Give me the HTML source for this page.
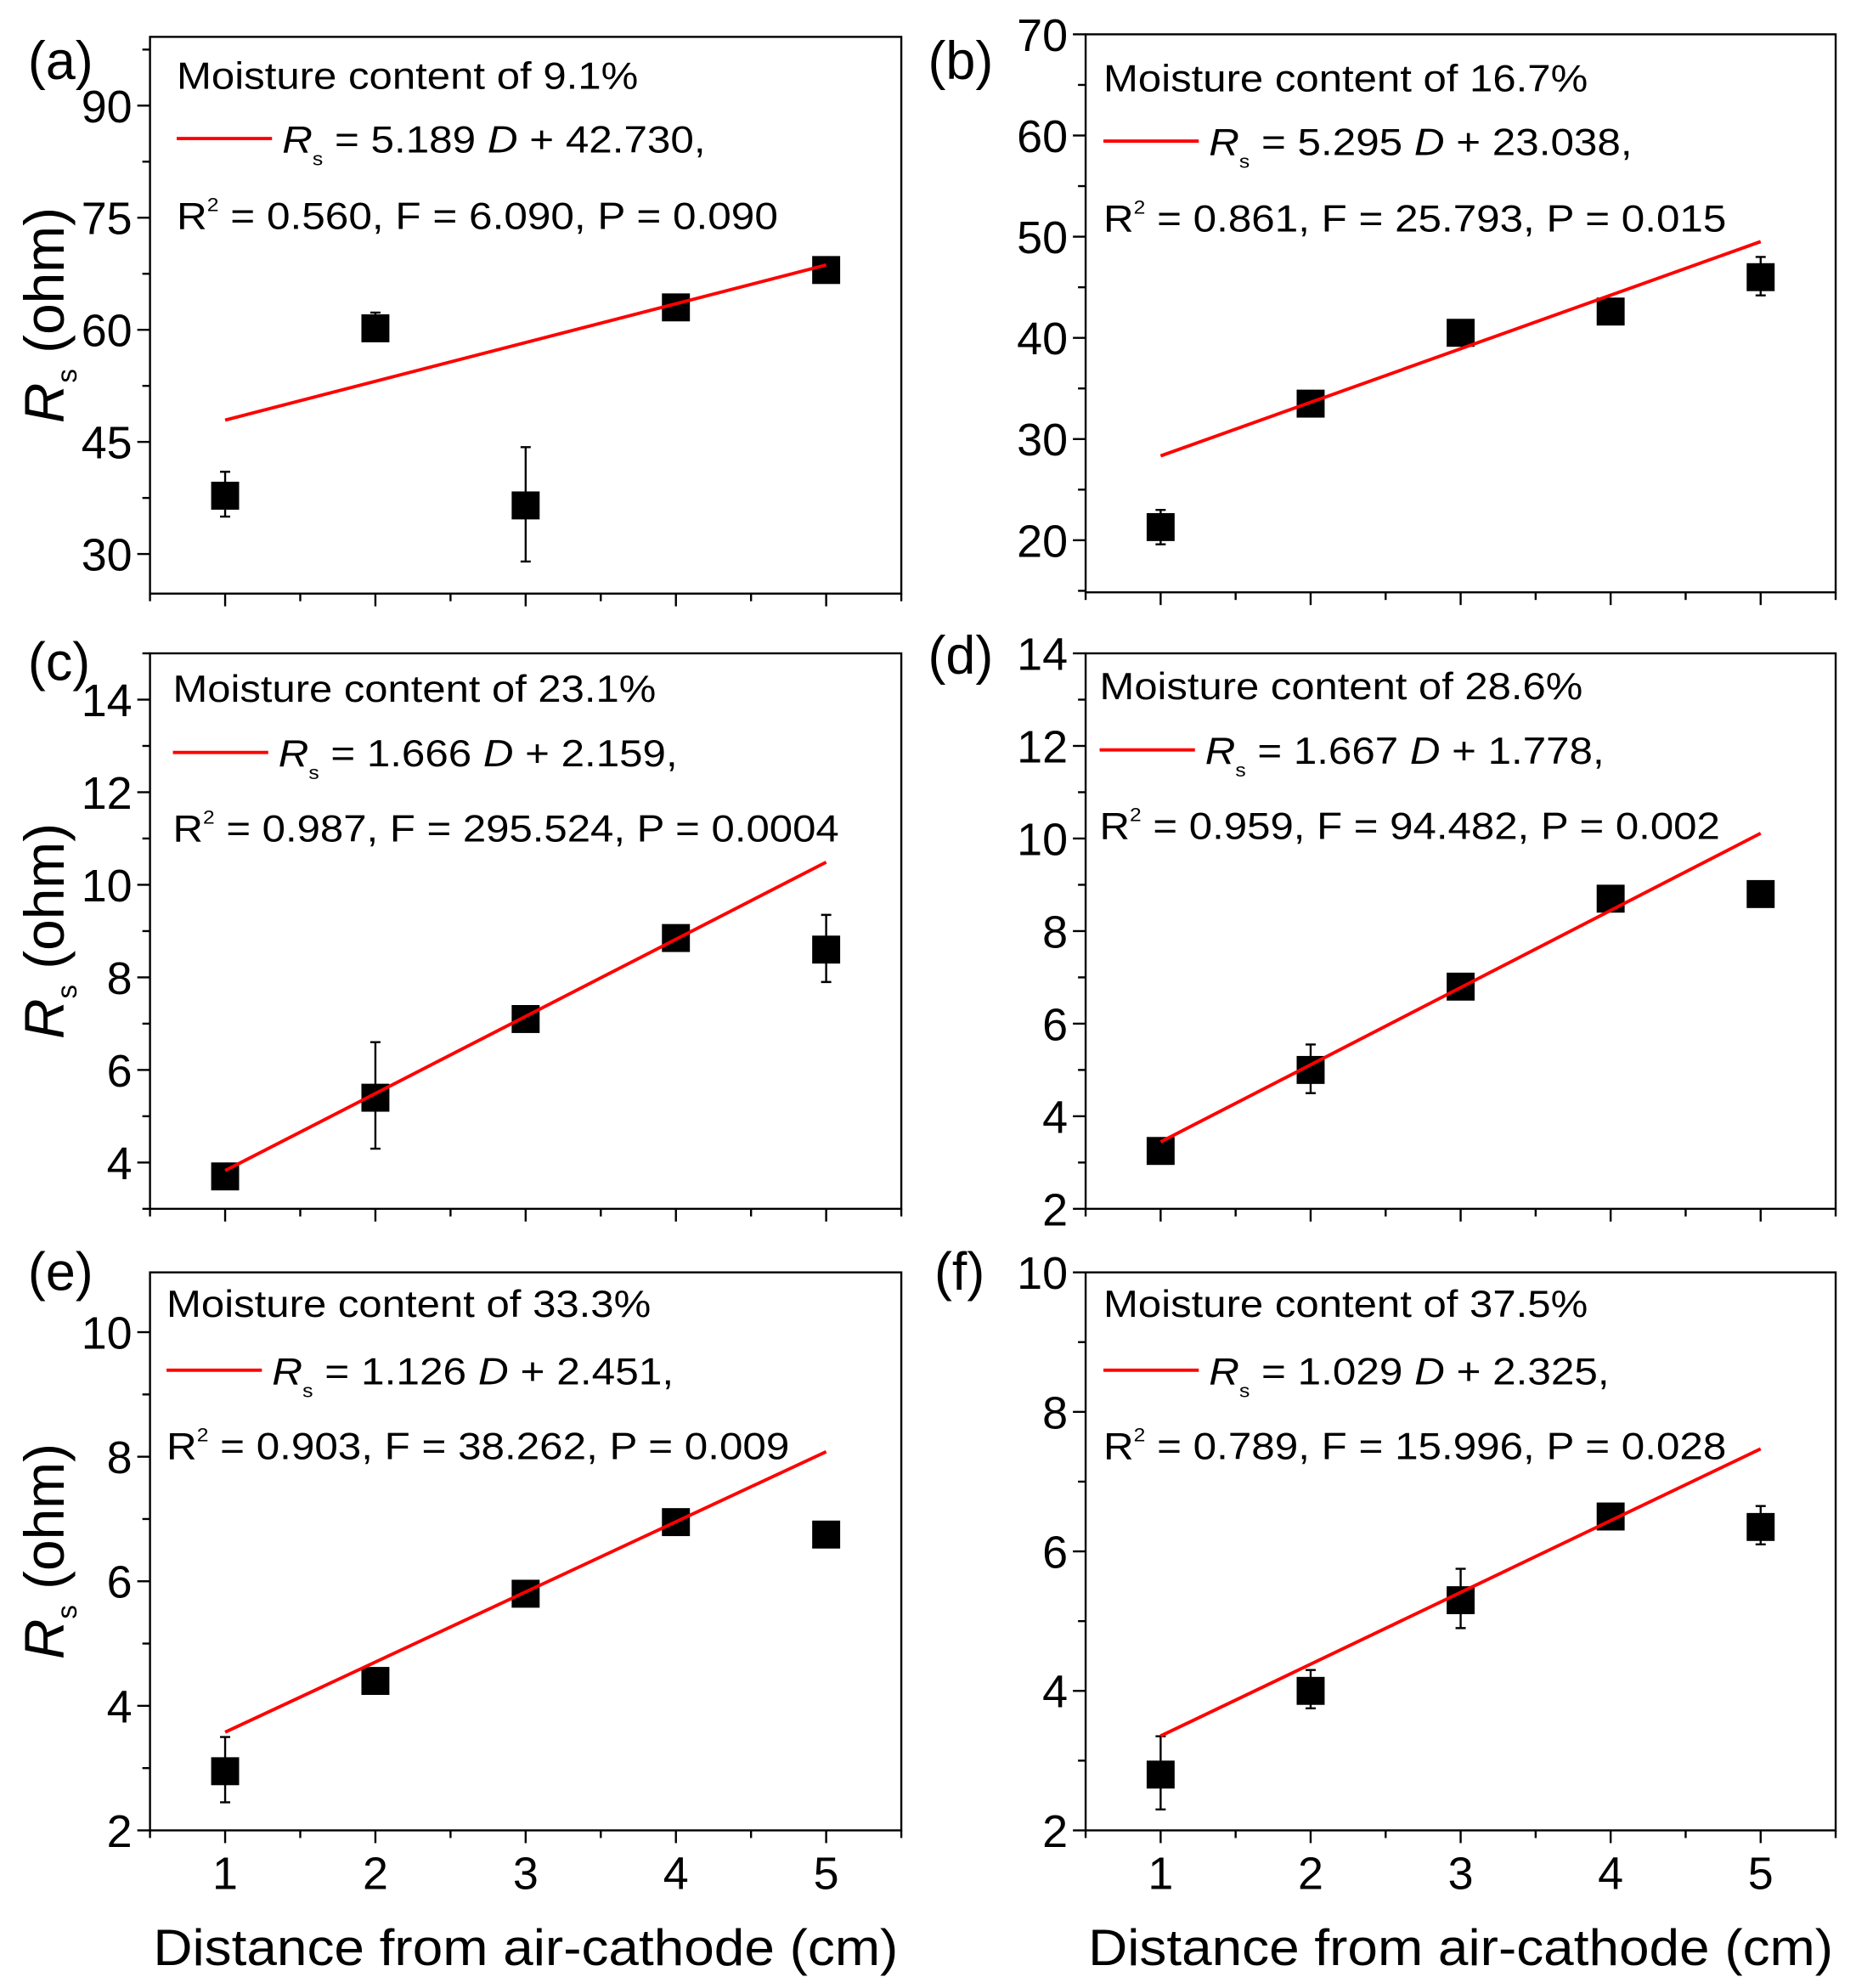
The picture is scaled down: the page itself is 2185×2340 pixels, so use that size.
<!DOCTYPE html>
<html><head><meta charset="utf-8"><style>
html,body{margin:0;padding:0;background:#fff;}
svg{display:block;}
text{font-family:"Liberation Sans",Arial,sans-serif;fill:#000;}
</style></head><body>
<svg id="fig" width="2185" height="2340" viewBox="0 0 1460 1564" preserveAspectRatio="none" xmlns="http://www.w3.org/2000/svg"></svg>
<script>
const distances = [1, 2, 3, 4, 5];
const aValues = [37.8, 60.2, 36.5, 63.0, 68.0];
const aErrLo = [35.0, 58.8, 29.0, 61.3, 67.2];
const aErrHi = [41.0, 62.3, 44.3, 64.5, 68.8];
const bValues = [21.3, 33.5, 40.5, 42.6, 46.0];
const bErrLo = [19.6, 32.8, 39.8, 41.6, 44.2];
const bErrHi = [23.0, 34.2, 41.2, 43.6, 48.0];
const cValues = [3.7, 5.4, 7.1, 8.85, 8.6];
const cErrLo = [3.55, 4.3, 6.95, 8.6, 7.9];
const cErrHi = [3.85, 6.6, 7.25, 9.1, 9.35];
const dValues = [3.25, 5.0, 6.8, 8.7, 8.8];
const dErrLo = [3.1, 4.5, 6.65, 8.5, 8.65];
const dErrHi = [3.4, 5.55, 6.95, 8.9, 8.95];
const eValues = [2.95, 4.4, 5.8, 6.95, 6.75];
const eErrLo = [2.45, 4.25, 5.7, 6.85, 6.6];
const eErrHi = [3.5, 4.55, 5.9, 7.05, 6.9];
const fValues = [2.8, 4.0, 5.3, 6.5, 6.35];
const fErrLo = [2.3, 3.75, 4.9, 6.4, 6.1];
const fErrHi = [3.35, 4.3, 5.75, 6.6, 6.65];
const slopes = [5.189, 5.295, 1.666, 1.667, 1.126, 1.029];
const intercepts = [42.730, 23.038, 2.159, 1.778, 2.451, 2.325];
const yTicksA = [30, 45, 60, 75, 90];
const yTicksB = [20, 30, 40, 50, 60, 70];
const yTicksC = [4, 6, 8, 10, 12, 14];
const yTicksD = [2, 4, 6, 8, 10, 12, 14];
const yTicksE = [2, 4, 6, 8, 10];
const yTicksF = [2, 4, 6, 8, 10];
const xTickLabels = ["1", "2", "3", "4", "5"];
const titles = ["Moisture content of 9.1%","Moisture content of 16.7%","Moisture content of 23.1%","Moisture content of 28.6%","Moisture content of 33.3%","Moisture content of 37.5%"];
const eqTexts = ["= 5.189 ","= 5.295 ","= 1.666 ","= 1.667 ","= 1.126 ","= 1.029 "];
const eqTails = [" + 42.730,"," + 23.038,"," + 2.159,"," + 1.778,"," + 2.451,"," + 2.325,"];
const statTexts = [" = 0.560, F = 6.090, P = 0.090"," = 0.861, F = 25.793, P = 0.015"," = 0.987, F = 295.524, P = 0.0004"," = 0.959, F = 94.482, P = 0.002"," = 0.903, F = 38.262, P = 0.009"," = 0.789, F = 15.996, P = 0.028"];

const NS = "http://www.w3.org/2000/svg";
const svg = document.getElementById('fig');
function mk(tag, attrs, parent, txt){
  const e = document.createElementNS(NS, tag);
  for (const k in attrs) e.setAttribute(k, attrs[k]);
  if (txt !== undefined) e.textContent = txt;
  (parent || svg).appendChild(e);
  return e;
}

const panels = [
 {id:'a', L:118,R:709,T:29,B:467, ymin:24.7, ymax:99.2, step:15, ticks:yTicksA, vals:aValues, lo:aErrLo, hi:aErrHi, tx:139, ty:[70,120,180], tw:[363,333,473], lab:[22,62], xl:false},
 {id:'b', L:854,R:1444,T:27,B:466, ymin:14.85, ymax:70, step:10, ticks:yTicksB, vals:bValues, lo:bErrLo, hi:bErrHi, tx:868, ty:[72,122,182], tw:[381,333,490], lab:[730,62], xl:false},
 {id:'c', L:118,R:709,T:514,B:951, ymin:3, ymax:15, step:2, ticks:yTicksC, vals:cValues, lo:cErrLo, hi:cErrHi, tx:136, ty:[552,603,662], tw:[380,314,524], lab:[22,535], xl:false},
 {id:'d', L:854,R:1444,T:514,B:951, ymin:2, ymax:14, step:2, ticks:yTicksD, vals:dValues, lo:dErrLo, hi:dErrHi, tx:865, ty:[550,601,660], tw:[380,314,488], lab:[730,530], xl:false},
 {id:'e', L:118,R:709,T:1001,B:1440, ymin:2, ymax:10.96, step:2, ticks:yTicksE, vals:eValues, lo:eErrLo, hi:eErrHi, tx:131, ty:[1036,1089,1148], tw:[381,316,490], lab:[22,1015], xl:true},
 {id:'f', L:854,R:1444,T:1001,B:1440, ymin:2, ymax:10, step:2, ticks:yTicksF, vals:fValues, lo:fErrLo, hi:fErrHi, tx:868, ty:[1036,1089,1148], tw:[381,315,490], lab:[735,1015], xl:true}
];

panels.forEach((p, i) => {
  const g = mk('g', {});
  
  
  const xs = v => p.L + (v - 0.5) / 5 * (p.R - p.L);
  const ys = v => p.B - (v - p.ymin) / (p.ymax - p.ymin) * (p.B - p.T);
  const box = mk('rect', {x:p.L, y:p.T, width:p.R-p.L, height:p.B-p.T, fill:'none', stroke:'#000', 'stroke-width':1.6}, g);
  
  
  for (let k = 0; k <= 10; k++) {
    const v = 0.5 + k * 0.5;
    const major = (k % 2 === 1);
    const t = mk('line', {x1:xs(v), x2:xs(v), y1:p.B, y2:p.B + (major ? 10 : 6), stroke:'#000', 'stroke-width':1.6}, g);
    
    
  }
  if (p.xl) {
    distances.forEach((d, j) => {
      const t = mk('text', {x:xs(d), y:1486, 'font-size':36, 'text-anchor':'middle'}, g, xTickLabels[j]);
      
      
    });
    const xt = mk('text', {x:(p.L+p.R)/2, y:1546, 'font-size':40, 'text-anchor':'middle', textLength:586, lengthAdjust:'spacingAndGlyphs'}, g, 'Distance from air-cathode (cm)');
    
    
  }
  for (let v = p.ticks[0] - p.step/2; v <= p.ymax + 1e-6; v += p.step/2) {
    if (v < p.ymin - 1e-6) continue;
    const major = p.ticks.some(t => Math.abs(t - v) < 1e-6);
    const t = mk('line', {x1:p.L - (major ? 10 : 6), x2:p.L, y1:ys(v), y2:ys(v), stroke:'#000', 'stroke-width':1.6}, g);
    
    
  }
  p.ticks.forEach(v => {
    const t = mk('text', {x:p.L - 14, y:ys(v) + 13, 'font-size':36, 'text-anchor':'end'}, g, String(v));
    
    
  });
  distances.forEach((d, j) => {
    const x = xs(d);
    const eb = mk('path', {d:`M${x},${ys(p.lo[j])}V${ys(p.hi[j])}M${x-4},${ys(p.lo[j])}h8M${x-4},${ys(p.hi[j])}h8`, stroke:'#000', 'stroke-width':1.6, fill:'none'}, g);
    
    
    const m = mk('rect', {x:x-11, y:ys(p.vals[j])-11, width:22, height:22, fill:'#000'}, g);
    
    
  });
  const fl = mk('line', {x1:xs(1), y1:ys(slopes[i]*1+intercepts[i]), x2:xs(5), y2:ys(slopes[i]*5+intercepts[i]), stroke:'#f00', 'stroke-width':2.6}, g);
  
  
  const tt = mk('text', {x:p.tx, y:p.ty[0], 'font-size':30, textLength:p.tw[0], lengthAdjust:'spacingAndGlyphs'}, g, titles[i]);
  
  
  const ll = mk('line', {x1:p.tx, x2:p.tx+75, y1:p.ty[1]-11, y2:p.ty[1]-11, stroke:'#f00', 'stroke-width':2.6}, g);
  
  
  const eq = mk('text', {x:p.tx+83, y:p.ty[1], 'font-size':30, textLength:p.tw[1], lengthAdjust:'spacingAndGlyphs'}, g);
  
  
  mk('tspan', {'font-style':'italic'}, eq, 'R');
  mk('tspan', {'font-size':15, dy:10}, eq, 's');
  mk('tspan', {dy:-10}, eq, ' ' + eqTexts[i]);
  mk('tspan', {'font-style':'italic'}, eq, 'D');
  mk('tspan', {}, eq, eqTails[i]);
  const st = mk('text', {x:p.tx, y:p.ty[2], 'font-size':30, textLength:p.tw[2], lengthAdjust:'spacingAndGlyphs'}, g);
  
  
  mk('tspan', {}, st, 'R');
  mk('tspan', {'font-size':15, dy:-14}, st, '2');
  mk('tspan', {dy:14}, st, statTexts[i]);
  const lb = mk('text', {x:p.lab[0], y:p.lab[1], 'font-size':42}, g, '(' + p.id + ')');
  
  
  if (p.L < 300) {
    const cy = (p.T + p.B) / 2;
    const yt = mk('text', {x:0, y:0, 'font-size':44, 'text-anchor':'middle', transform:`translate(50,${cy}) rotate(-90)`}, g);
    
    
    mk('tspan', {'font-style':'italic'}, yt, 'R');
    mk('tspan', {'font-size':22, dy:10}, yt, 's');
    mk('tspan', {dy:-10}, yt, ' (ohm)');
  }
});
</script>
</body></html>
